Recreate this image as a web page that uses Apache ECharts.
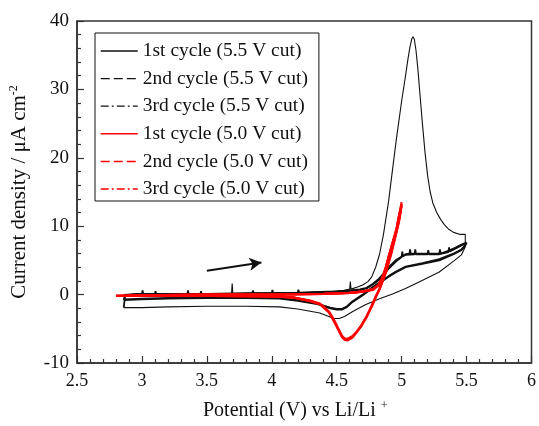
<!DOCTYPE html>
<html>
<head>
<meta charset="utf-8">
<script src="https://cdn.jsdelivr.net/npm/echarts@6/dist/echarts.min.js"></script>
<style>
  html, body { margin: 0; padding: 0; background: #fff; }
  #chart { width: 539px; height: 426px; }
</style>
</head>
<body>
<div id="chart"></div>
<script>
// Cyclic voltammograms: potential (V vs Li/Li+) against current density (µA cm^-2)

// 5.5 V cut-off, cycle 1
const c1Up = [[2.86,0.0],[2.95,0.1],[3.1,0.1],[3.3,0.1],[3.5,0.15],[3.69,0.15],[3.695,1.6],[3.70,0.15],
  [3.9,0.2],[4.1,0.25],[4.3,0.3],[4.45,0.45],[4.55,0.6],[4.6,0.8],[4.605,1.9],[4.61,0.8],[4.66,1.1],[4.70,1.4],
  [4.74,1.9],[4.77,2.6],[4.80,4.0],[4.83,5.9],[4.86,8.8],[4.90,13.7],[4.93,18.3],[4.96,22.8],[5.00,28.3],
  [5.03,32.0],[5.05,34.6],[5.065,36.3],[5.078,37.4],[5.088,37.7],[5.098,37.3],[5.11,35.8],[5.125,33.0],
  [5.14,29.5],[5.16,25.0],[5.18,20.8],[5.20,17.4],[5.22,15.0],[5.24,13.4],[5.27,12.0],[5.30,11.0],
  [5.33,10.2],[5.36,9.6],[5.40,9.1],[5.45,8.8],[5.49,8.8],[5.50,8.9]];
const c1Down = [[5.50,8.9],[5.49,7.0],[5.46,5.8],[5.40,4.9],[5.29,3.3],[5.15,2.0],[5.03,0.9],[4.93,0.1],
  [4.83,-0.6],[4.72,-1.5],[4.62,-2.5],[4.56,-3.2],[4.52,-3.5],[4.48,-3.5],[4.44,-3.2],[4.37,-2.7],
  [4.2,-2.1],[4.06,-1.8],[3.8,-1.7],[3.5,-1.7],[3.2,-1.8],[3.0,-1.9],[2.86,-1.9]];

// 5.5 V cut-off, cycles 2 and 3 (including the brief current spikes)
const c2Up = [[2.86,-1.9],[2.87,-0.2],[2.95,0.0],[3.0,0.05],[3.005,0.6],[3.01,0.05],[3.2,0.05],
  [3.35,0.1],[3.355,0.6],[3.36,0.1],[3.5,0.1],[3.8,0.15],[4.0,0.2],[4.005,0.7],[4.01,0.2],[4.3,0.3],
  [4.5,0.4],[4.6,0.55],[4.68,0.7],[4.73,0.9],[4.78,1.5],[4.83,2.2],[4.87,3.1],[4.90,3.8],[4.96,4.9],
  [5.00,5.5],[5.005,6.3],[5.01,5.6],[5.03,5.8],[5.10,5.9],[5.105,6.6],[5.11,5.9],[5.20,5.9],[5.205,6.5],
  [5.21,5.9],[5.29,5.9],[5.36,6.2],[5.365,6.9],[5.37,6.3],[5.42,6.8],[5.46,7.2],[5.50,7.5]];
const c2Down = [[5.50,7.5],[5.48,6.9],[5.46,6.5],[5.40,5.9],[5.29,5.0],[5.16,4.5],[5.03,4.0],[4.95,3.2],
  [4.90,2.6],[4.83,1.7],[4.77,0.9],[4.70,-0.1],[4.66,-0.6],[4.62,-1.1],[4.58,-1.8],[4.54,-2.2],
  [4.50,-2.2],[4.45,-2.0],[4.35,-1.4],[4.2,-0.9],[4.06,-0.6],[3.8,-0.5],[3.5,-0.5],[3.2,-0.6],
  [3.0,-0.7],[2.86,-0.8]];
const c3Up = [[2.86,-0.8],[2.87,-0.1],[2.95,0.05],[3.1,0.1],[3.105,0.5],[3.11,0.1],[3.2,0.1],
  [3.45,0.1],[3.455,0.5],[3.46,0.1],[3.5,0.1],[3.8,0.2],[3.85,0.2],[3.855,0.6],[3.86,0.2],[4.1,0.25],
  [4.2,0.3],[4.205,0.7],[4.21,0.3],[4.3,0.35],[4.5,0.45],[4.6,0.6],[4.68,0.75],[4.73,1.0],[4.78,1.6],
  [4.83,2.4],[4.87,3.3],[4.90,4.0],[4.96,5.1],[5.03,5.9],[5.06,6.0],[5.065,6.6],[5.07,6.0],[5.10,6.0],
  [5.20,6.0],[5.29,6.0],[5.295,6.6],[5.30,6.0],[5.36,6.4],[5.42,6.9],[5.46,7.3],[5.50,7.6]];
const c3Down = [[5.50,7.6],[5.48,7.0],[5.46,6.6],[5.40,6.0],[5.29,5.2],[5.16,4.6],[5.03,4.1],[4.95,3.3],
  [4.90,2.7],[4.83,1.8],[4.77,1.0],[4.70,0.0],[4.66,-0.5],[4.62,-1.0],[4.58,-1.7],[4.54,-2.1],
  [4.50,-2.1],[4.45,-1.9],[4.35,-1.3],[4.2,-0.8],[4.06,-0.5],[3.8,-0.4],[3.5,-0.4],[3.2,-0.5],
  [3.0,-0.6],[2.86,-0.7]];

// 5.0 V cut-off, cycles 1-3
const r1Up = [[2.80,-0.2],[2.9,-0.15],[3.0,-0.1],[3.3,-0.05],[3.6,0.0],[3.9,0.0],[4.2,0.05],[4.4,0.1],
  [4.55,0.2],[4.65,0.3],[4.72,0.5],[4.78,0.7],[4.82,1.3],[4.85,2.3],[4.88,4.0],[4.90,5.5],[4.93,7.5],
  [4.96,9.5],[4.98,11.5],[5.00,13.5]];
const r1Down = [[5.00,13.5],[4.99,12.0],[4.98,11.0],[4.95,8.5],[4.92,6.2],[4.88,3.5],[4.85,1.9],
  [4.83,0.9],[4.80,-0.3],[4.77,-1.6],[4.73,-3.2],[4.69,-4.5],[4.65,-5.6],[4.62,-6.3],[4.58,-6.7],
  [4.56,-6.6],[4.54,-6.2],[4.50,-4.7],[4.47,-3.6],[4.44,-2.6],[4.40,-1.9],[4.37,-1.4],[4.30,-1.0],
  [4.16,-0.4],[4.0,-0.25],[3.6,-0.2],[3.2,-0.2],[2.80,-0.2]];
const r2Up = [[2.80,-0.2],[3.0,-0.1],[3.5,0.0],[4.0,0.0],[4.4,0.1],[4.6,0.25],[4.72,0.5],[4.78,0.8],
  [4.82,1.4],[4.85,2.4],[4.88,4.1],[4.90,5.6],[4.93,7.6],[4.96,9.6],[4.98,11.6],[5.00,13.2]];
const r2Down = [[5.00,13.2],[4.98,10.8],[4.95,8.4],[4.92,6.1],[4.88,3.4],[4.85,1.8],[4.83,0.8],
  [4.80,-0.4],[4.77,-1.7],[4.73,-3.3],[4.69,-4.6],[4.65,-5.6],[4.62,-6.2],[4.58,-6.6],[4.56,-6.5],
  [4.54,-6.1],[4.50,-4.6],[4.47,-3.5],[4.44,-2.5],[4.40,-1.8],[4.37,-1.4],[4.30,-0.9],[4.16,-0.4],
  [4.0,-0.25],[3.5,-0.2],[2.80,-0.2]];
const r3Up = [[2.80,-0.2],[3.0,-0.1],[3.5,0.0],[4.0,0.0],[4.4,0.1],[4.6,0.25],[4.72,0.5],[4.78,0.8],
  [4.82,1.4],[4.85,2.4],[4.88,4.1],[4.90,5.5],[4.93,7.5],[4.96,9.5],[4.98,11.4],[5.00,13.0]];
const r3Down = [[5.00,13.0],[4.98,10.7],[4.95,8.3],[4.92,6.0],[4.88,3.3],[4.85,1.8],[4.83,0.8],
  [4.80,-0.4],[4.77,-1.7],[4.73,-3.2],[4.69,-4.5],[4.65,-5.5],[4.62,-6.1],[4.58,-6.5],[4.56,-6.4],
  [4.54,-6.0],[4.50,-4.5],[4.47,-3.4],[4.44,-2.5],[4.40,-1.8],[4.37,-1.3],[4.30,-0.9],[4.16,-0.4],
  [4.0,-0.25],[3.5,-0.2],[2.80,-0.2]];

const seriesNames = ['1st cycle (5.5 V cut)','2nd cycle (5.5 V cut)','3rd cycle (5.5 V cut)',
                     '1st cycle (5.0 V cut)','2nd cycle (5.0 V cut)','3rd cycle (5.0 V cut)'];

// sweep-direction arrow, in data units (V, µA cm^-2)
const sweepArrow = [[3.5, 3.5], [3.92, 4.7]];

const xTicks = { min: 2.5, max: 6, step: 0.5 };
const yTicks = { min: -10, max: 40, step: 10 };

const FONT = '"Liberation Serif","Times New Roman",Times,serif';
const INK = '#111';
const RED = '#ff0000';

const curves = [
  { data: c1Up.concat(c1Down), color: INK, width: 1.1, legendType: 'solid' },
  { data: c2Up.concat(c2Down), color: INK, width: 1.8, legendType: [9, 4] },
  { data: c3Up.concat(c3Down), color: INK, width: 1.8, legendType: [8, 3, 2, 3] },
  { data: r1Up.concat(r1Down), color: RED, width: 2.2, legendType: 'solid' },
  { data: r2Up.concat(r2Down), color: RED, width: 2.2, legendType: [9, 4] },
  { data: r3Up.concat(r3Down), color: RED, width: 2.2, legendType: [8, 3, 2, 3] }
];

const series = curves.map((c, i) => ({
  name: seriesNames[i],
  type: 'line',
  data: c.data,
  symbol: 'none',
  showSymbol: false,
  smooth: false,
  z: i >= 3 ? 3 : 2,
  lineStyle: { color: c.color, width: c.width },
  itemStyle: { color: c.color }
}));

series[0].markLine = {
  silent: true,
  symbol: ['none', 'arrow'],
  symbolSize: [10, 12],
  label: { show: false },
  lineStyle: { color: INK, width: 2, type: 'solid' },
  data: [[{ coord: sweepArrow[0] }, { coord: sweepArrow[1] }]]
};

const axisCommon = {
  axisLine: { show: true, onZero: false, lineStyle: { color: '#333', width: 1.5 } },
  axisTick: { show: true, inside: true, length: 7, lineStyle: { color: '#333', width: 1.2 } },
  minorTick: { show: true, splitNumber: 5, length: 4, lineStyle: { color: '#333', width: 1.2 } },
  splitLine: { show: false },
  minorSplitLine: { show: false }
};

const supStyle = { fontFamily: FONT, fontSize: 12, color: INK, verticalAlign: 'top', padding: [0, 0, 10, 0] };

const option = {
  animation: false,
  backgroundColor: '#fff',
  grid: { left: 76, right: 5, top: 21, bottom: 60, show: true, borderColor: '#333', borderWidth: 1.5 },
  xAxis: Object.assign({
    type: 'value', min: xTicks.min, max: xTicks.max, interval: xTicks.step,
    axisLabel: { color: INK, fontFamily: FONT, fontSize: 18, margin: 9 },
    name: 'Potential (V) vs Li/Li {sup|+}',
    nameLocation: 'middle', nameGap: 37,
    nameTextStyle: { color: INK, fontFamily: FONT, fontSize: 20, padding: [0, 18, 0, 0], rich: { sup: supStyle } }
  }, axisCommon),
  yAxis: Object.assign({
    type: 'value', min: yTicks.min, max: yTicks.max, interval: yTicks.step,
    axisLabel: { color: INK, fontFamily: FONT, fontSize: 19, margin: 8 },
    name: 'Current density / μA cm{sup|-2}',
    nameLocation: 'middle', nameGap: 47,
    nameTextStyle: { color: INK, fontFamily: FONT, fontSize: 21, rich: { sup: supStyle } }
  }, axisCommon),
  legend: {
    orient: 'vertical',
    left: 95, top: 33,
    padding: [8, 11, 2, 5],
    itemWidth: 37, itemHeight: 14, itemGap: 7.6,
    borderColor: INK, borderWidth: 1,
    itemStyle: { color: 'rgba(0,0,0,0)', borderColor: 'rgba(0,0,0,0)', borderWidth: 0, opacity: 0 },
    textStyle: { fontFamily: FONT, fontSize: 19.5, color: INK, lineHeight: 19.5 },
    data: seriesNames.map((n, i) => ({
      name: n,
      lineStyle: { type: curves[i].legendType, width: i >= 3 ? 1.5 : 1.3 }
    }))
  },
  series: series
};

const chart = echarts.init(document.getElementById('chart'), null, { renderer: 'canvas' });
chart.setOption(option);
</script>
</body>
</html>
